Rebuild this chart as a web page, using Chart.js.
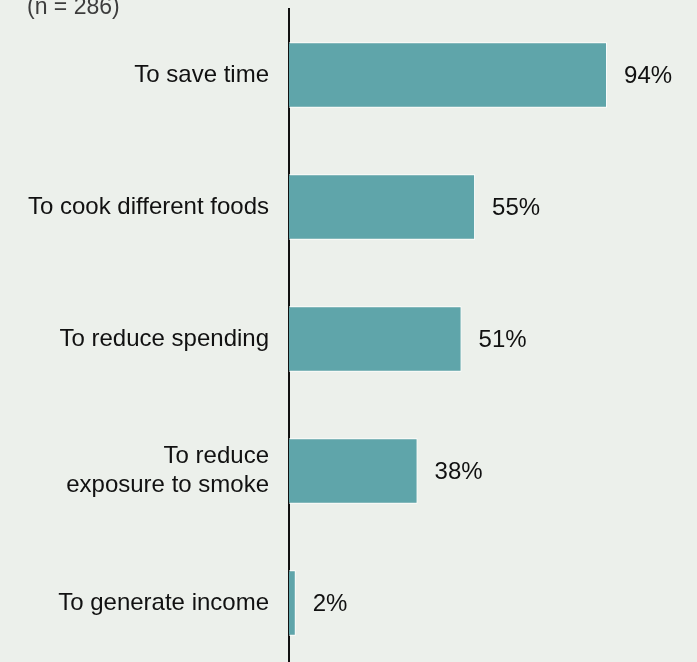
<!DOCTYPE html>
<html>
<head>
<meta charset="utf-8">
<script src="https://cdn.jsdelivr.net/npm/chart.js@4/dist/chart.umd.min.js"></script>
<style>
  html, body { margin: 0; padding: 0; background: #ecf0eb; overflow: hidden; }
  #wrap { position: relative; width: 697px; height: 670px; }
</style>
</head>
<body>
<div id="wrap"><canvas id="chart"></canvas></div>
<script>
// Reasons for use, share of respondents
const subtitle = '(n = 286)';
const categories = [
  'To save time',
  'To cook different foods',
  'To reduce spending',
  ['To reduce', 'exposure to smoke'],
  'To generate income'
];
const shares = [94, 55, 51, 38, 2];
const xMin = 0;
const xMax = 120;

const FONT = '"Liberation Sans", Arial, Helvetica, sans-serif';

// Writes the value beside each bar and the sample-size note at the top
const annotate = {
  id: 'annotate',
  afterDatasetsDraw(chart) {
    const { ctx } = chart;
    const meta = chart.getDatasetMeta(0);
    ctx.save();
    ctx.font = '24px ' + FONT;
    ctx.fillStyle = '#111111';
    ctx.textAlign = 'left';
    ctx.textBaseline = 'middle';
    meta.data.forEach((bar, i) => {
      ctx.fillText(shares[i] + '%', bar.x + 17, bar.y + 1);
    });
    ctx.font = '23px ' + FONT;
    ctx.fillStyle = '#3d3d3d';
    ctx.textBaseline = 'alphabetic';
    ctx.fillText(subtitle, 27, 14);
    ctx.restore();
  }
};

new Chart(document.getElementById('chart'), {
  type: 'bar',
  data: {
    labels: categories,
    datasets: [{
      data: shares,
      backgroundColor: '#5fa5aa',
      borderColor: '#ffffff',
      borderWidth: 1,
      borderSkipped: 'start',
      barPercentage: 0.99,
      categoryPercentage: 0.5
    }]
  },
  options: {
    indexAxis: 'y',
    responsive: true,
    maintainAspectRatio: false,
    animation: false,
    layout: { padding: { top: 9, right: 2, bottom: 1, left: 0 } },
    plugins: {
      legend: { display: false },
      title: { display: false },
      tooltip: { enabled: false }
    },
    scales: {
      x: {
        display: false,
        min: xMin,
        max: xMax
      },
      y: {
        afterFit(scale) {
          scale.width = 289;
          scale.paddingTop = 0;
          scale.paddingBottom = 0;
        },
        grid: { color: 'transparent', drawTicks: false },
        border: { display: true, color: '#111111', width: 2 },
        ticks: {
          color: '#111111',
          font: { family: FONT, size: 24 },
          padding: 20
        }
      }
    }
  },
  plugins: [annotate]
});
</script>
</body>
</html>
